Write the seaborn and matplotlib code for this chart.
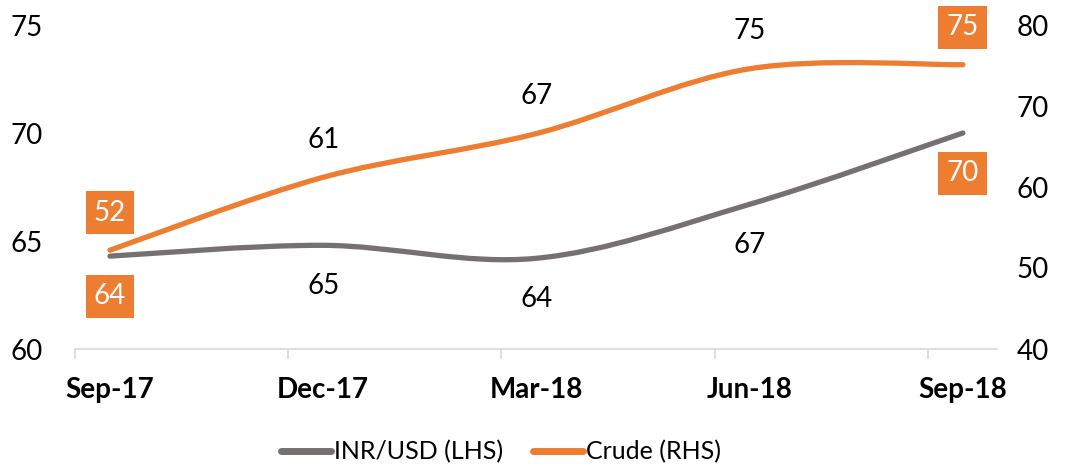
import numpy as np
import matplotlib.pyplot as plt
import seaborn as sns
from matplotlib.path import Path
from matplotlib.patches import PathPatch
from matplotlib.lines import Line2D

# data
months = ['Sep-17', 'Dec-17', 'Mar-18', 'Jun-18', 'Sep-18']
inr_usd = [64.3, 64.8, 64.2, 66.7, 70.0]
crude = [52.2, 61.2, 66.6, 74.6, 75.1]
inr_labels = ['64', '65', '64', '67', '70']
crude_labels = ['52', '61', '67', '75', '75']

sns.set_theme(style='white')
plt.rcParams['font.family'] = ['Lato', 'DejaVu Sans']

GREY = '#767171'
ORANGE = '#ED7D31'
AXIS = '#D9D9D9'
FS = 20


def smooth_path(xs, ys):
    # excel-like smoothed line: catmull-rom segments as cubic beziers
    pts = np.column_stack([xs, ys]).astype(float)
    n = len(pts)
    verts = [pts[0]]
    codes = [Path.MOVETO]
    for i in range(n - 1):
        p0 = pts[max(i - 1, 0)]
        p1 = pts[i]
        p2 = pts[i + 1]
        p3 = pts[min(i + 2, n - 1)]
        verts += [p1 + (p2 - p0) / 6, p2 - (p3 - p1) / 6, p2]
        codes += [Path.CURVE4] * 3
    return Path(verts, codes)


fig = plt.figure(figsize=(10.66, 4.66), dpi=100)
ax = fig.add_axes([75 / 1066, 1 - 349 / 466, 922 / 1066, 324 / 466])
ax2 = ax.twinx()

x = np.arange(len(months))
ax.set_xlim(-0.164, 4.16)
ax.set_ylim(60, 75)
ax.set_yticks([60, 65, 70, 75])
ax2.set_ylim(40, 80)
ax2.set_yticks([40, 50, 60, 70, 80])

ax.add_patch(PathPatch(smooth_path(x, inr_usd), fill=False, edgecolor=GREY,
                       lw=3.8, capstyle='round', joinstyle='round'))
ax2.add_patch(PathPatch(smooth_path(x, crude), fill=False, edgecolor=ORANGE,
                        lw=3.8, capstyle='round', joinstyle='round'))

# spines / ticks
for s in ['top', 'left', 'right']:
    ax.spines[s].set_visible(False)
for s in ax2.spines:
    ax2.spines[s].set_visible(False)
ax.spines['bottom'].set_color(AXIS)
ax.spines['bottom'].set_linewidth(1.2)

ax.set_xticks(x)
ax.set_xticklabels(months, fontweight='bold')
ax.set_xticks(x - 0.164, minor=True)
ax.tick_params(axis='x', which='major', length=0, pad=20, labelsize=FS, labelcolor='black')
ax.tick_params(axis='x', which='minor', bottom=True, length=7, width=1.2,
               color=AXIS, direction='out')
ax.tick_params(axis='y', length=0, pad=23, labelsize=FS, labelcolor='black')
ax2.tick_params(axis='y', length=0, pad=14, labelsize=FS, labelcolor='black')

# data labels, first and last in orange boxes
box = dict(boxstyle='square,pad=0.3', fc=ORANGE, ec='none')
last = len(months) - 1
for i in range(len(months)):
    boxed = i in (0, last)
    ax.annotate(inr_labels[i], (x[i], inr_usd[i]), xytext=(0, -29),
                textcoords='offset points', ha='center', va='center',
                fontsize=FS, color='white' if boxed else 'black',
                bbox=box if boxed else None)
    ax2.annotate(crude_labels[i], (x[i], crude[i]), xytext=(0, 27),
                 textcoords='offset points', ha='center', va='center',
                 fontsize=FS, color='white' if boxed else 'black',
                 bbox=box if boxed else None)

handles = [Line2D([], [], color=GREY, lw=5, solid_capstyle='round'),
           Line2D([], [], color=ORANGE, lw=5, solid_capstyle='round')]
fig.legend(handles, ['INR/USD (LHS)', 'Crude (RHS)'], loc='center',
           bbox_to_anchor=(501 / 1066, 1 - 452 / 466), ncol=2, frameon=False,
           fontsize=18, handlelength=2.0, handletextpad=0.1, columnspacing=1.2,
           labelcolor='black')

fig.savefig('out.png', dpi=100)
